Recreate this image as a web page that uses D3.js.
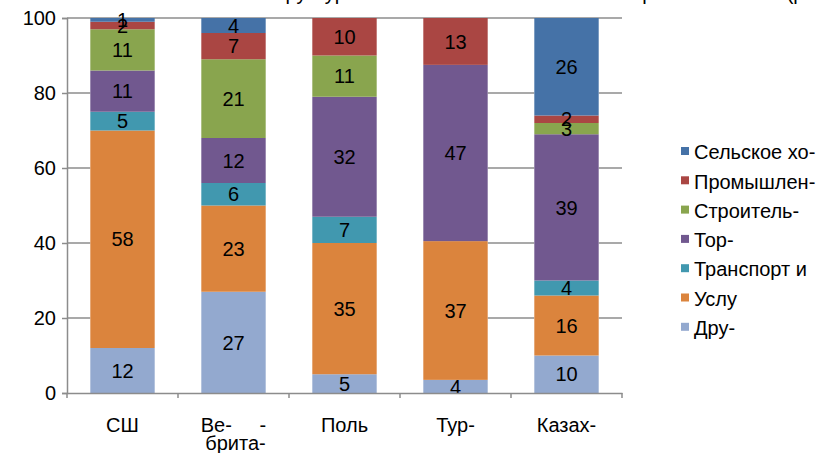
<!DOCTYPE html>
<html>
<head>
<meta charset="utf-8">
<script src="https://cdn.jsdelivr.net/npm/d3@7"></script>
<style>
  body { margin: 0; background: #fff; }
  text { font-family: "Liberation Sans", Arial, sans-serif; fill: #000; }
</style>
</head>
<body>
<div id="container"></div>
<script>
const w = 824;
const h = 453;

// data, bottom to top of each bar
const countries = ['СШ', 'Ве-     -|брита-', 'Поль', 'Тур-', 'Казах-'];
const sectors = ['Дру-', 'Услу', 'Транспорт и', 'Тор-', 'Строитель-', 'Промышлен-', 'Сельское хо-'];
const colors = ['#93a9cf', '#db843d', '#4198af', '#71588f', '#89a54e', '#aa4643', '#4572a7'];
const other     = [12, 27, 5, 3.5, 10];
const services  = [58, 23, 35, 37, 16];
const transport = [5, 6, 7, 0, 4];
const trade     = [11, 12, 32, 47, 39];
const building  = [11, 21, 11, 0, 3];
const industry  = [2, 7, 10, 12.5, 2];
const farming   = [1, 4, 0, 0, 26];
const yTicks = [0, 20, 40, 60, 80, 100];

const series = [other, services, transport, trade, building, industry, farming];

const table = countries.map((c, i) => {
  const row = { country: c };
  sectors.forEach((s, j) => row[s] = series[j][i]);
  return row;
});

const stacked = d3.stack().keys(sectors)(table);

const svg = d3.select('#container')
  .append('svg')
  .attr('width', w)
  .attr('height', h);

const x = d3.scaleBand()
  .domain(countries)
  .range([67, 622])
  .paddingInner(0.42)
  .paddingOuter(0.21);

const y = d3.scaleLinear()
  .domain([0, 100])
  .range([393, 18]);

const fs = '20px';

// title, mostly above the visible area
svg.append('text')
  .attr('x', 262)
  .attr('y', 0)
  .style('font-size', fs)
  .text('Структура занятости населения по секторам экономики (распределение, %)');

// gridlines, only where they show in gaps
const step = x.step();
const gaps = [
  [67, x(countries[0])],
  [x(countries[3]) + x.bandwidth(), x(countries[4])],
  [x(countries[4]) + x.bandwidth(), 622]
];
yTicks.filter(t => t > 0 && t < 100).forEach(t => {
  gaps.forEach(g => {
    svg.append('line')
      .attr('x1', g[0]).attr('x2', g[1])
      .attr('y1', y(t)).attr('y2', y(t))
      .attr('stroke', '#8c8c8c')
      .attr('stroke-width', 1.5);
  });
});
svg.append('line')
  .attr('x1', 67).attr('x2', 622)
  .attr('y1', y(100)).attr('y2', y(100))
  .attr('stroke', '#8c8c8c')
  .attr('stroke-width', 1.5);

// bars
svg.append('g')
  .selectAll('g')
  .data(stacked)
  .enter()
  .append('g')
  .attr('fill', (d, i) => colors[i])
  .selectAll('rect')
  .data(d => d)
  .enter()
  .append('rect')
  .attr('x', d => x(d.data.country))
  .attr('y', d => y(d[1]))
  .attr('width', x.bandwidth())
  .attr('height', d => y(d[0]) - y(d[1]));

// value labels
stacked.forEach(s => {
  svg.append('g')
    .selectAll('text')
    .data(s.filter(d => d[1] - d[0] > 0))
    .enter()
    .append('text')
    .attr('x', d => x(d.data.country) + x.bandwidth() / 2)
    .attr('y', d => y((d[0] + d[1]) / 2))
    .attr('dy', '0.36em')
    .attr('text-anchor', 'middle')
    .style('font-size', fs)
    .text(d => Math.round(d[1] - d[0]));
});

// y axis
const yAxis = d3.axisLeft(y).tickValues(yTicks).tickSize(5).tickPadding(6);
const gy = svg.append('g')
  .attr('transform', 'translate(67,0)')
  .call(yAxis);
gy.selectAll('text').style('font-size', fs);

// x axis
const xAxis = d3.axisBottom(x).tickSize(0).tickFormat('');
const gx = svg.append('g')
  .attr('transform', 'translate(0,' + y(0) + ')')
  .call(xAxis);
gx.selectAll('.tick').remove();
d3.range(countries.length + 1).forEach(i => {
  gx.append('line')
    .attr('x1', 67 + i * step).attr('x2', 67 + i * step)
    .attr('y1', 0).attr('y2', 5)
    .attr('stroke', '#8c8c8c')
    .attr('stroke-width', 1.5);
});

[gx, gy].forEach(g => {
  g.select('.domain').attr('stroke', '#8c8c8c').attr('stroke-width', 1.5);
  g.selectAll('line').attr('stroke', '#8c8c8c').attr('stroke-width', 1.5);
});

countries.forEach(c => {
  const lines = c.split('|');
  const t = svg.append('text')
    .attr('text-anchor', 'middle')
    .attr('xml:space', 'preserve')
    .style('white-space', 'pre')
    .style('font-size', fs);
  lines.forEach((l, i) => {
    t.append('tspan')
      .attr('x', x(c) + x.bandwidth() / 2 + (i > 0 ? 2 : 0))
      .attr('y', 432 + i * 18)
      .text(l);
  });
});

// legend
const legend = svg.append('g')
  .selectAll('g')
  .data(sectors.slice().reverse())
  .enter()
  .append('g')
  .attr('transform', (d, i) => 'translate(681,' + (152 + i * 29.3) + ')');

legend.append('rect')
  .attr('x', 0)
  .attr('y', -5)
  .attr('width', 8)
  .attr('height', 8)
  .attr('fill', d => colors[sectors.indexOf(d)]);

legend.append('text')
  .attr('x', 13)
  .attr('y', 0)
  .attr('dy', '0.36em')
  .style('font-size', fs)
  .text(d => d);
</script>
</body>
</html>
